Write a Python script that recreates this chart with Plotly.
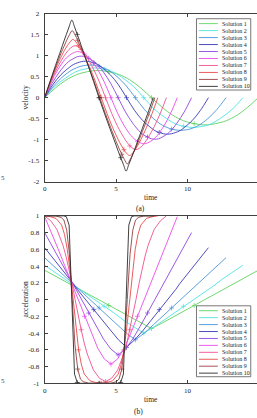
import plotly.graph_objects as go

W, H = 257, 418

NAMES = ["Solution 1", "Solution 2", "Solution 3", "Solution 4", "Solution 5",
         "Solution 6", "Solution 7", "Solution 8", "Solution 9", "Solution 10"]
COLORS = ['#5fd35f', '#4fe3e3', '#4a94d8', '#3a3ab8', '#8f45e0',
          '#ea4aea', '#f0508f', '#e84a4a', '#9a4040', '#2a2a2a']

# final time of each solution
T_END = [14.95, 13.87, 12.69, 11.46, 10.28, 9.28, 8.52, 7.92, 7.71, 7.6]
# sample instants as a fraction of each solution's final time
PHASE = [0, 0.05, 0.1, 0.15, 0.175, 0.2, 0.225, 0.25, 0.275, 0.3, 0.325, 0.35, 0.4, 0.45, 0.5,
         0.55, 0.6, 0.65, 0.675, 0.7, 0.725, 0.75, 0.775, 0.8, 0.825, 0.85, 0.9, 0.95, 1.0]
MARK_IDX = [9, 14, 19]

V1 = [0, 0.23, 0.42, 0.55, 0.59, 0.62, 0.64, 0.65, 0.64, 0.62, 0.59, 0.55, 0.42, 0.23, 0,
      -0.23, -0.42, -0.55, -0.59, -0.62, -0.64, -0.65, -0.64, -0.62, -0.59, -0.55, -0.42, -0.23, 0]
V2 = [0, 0.26, 0.45, 0.60, 0.65, 0.68, 0.70, 0.71, 0.70, 0.68, 0.65, 0.60, 0.45, 0.26, 0,
      -0.26, -0.45, -0.60, -0.65, -0.68, -0.70, -0.71, -0.70, -0.68, -0.65, -0.60, -0.45, -0.26, 0]
V3 = [0, 0.28, 0.50, 0.66, 0.71, 0.75, 0.77, 0.78, 0.77, 0.75, 0.71, 0.66, 0.50, 0.28, 0,
      -0.28, -0.50, -0.66, -0.71, -0.75, -0.77, -0.78, -0.77, -0.75, -0.71, -0.66, -0.50, -0.28, 0]
V4 = [0, 0.31, 0.55, 0.72, 0.79, 0.83, 0.86, 0.87, 0.86, 0.83, 0.79, 0.72, 0.55, 0.31, 0,
      -0.31, -0.55, -0.72, -0.79, -0.83, -0.86, -0.87, -0.86, -0.83, -0.79, -0.72, -0.55, -0.31, 0]
V5 = [0, 0.34, 0.61, 0.82, 0.89, 0.94, 0.98, 0.99, 0.98, 0.94, 0.89, 0.82, 0.61, 0.34, 0,
      -0.34, -0.61, -0.82, -0.89, -0.94, -0.98, -0.99, -0.98, -0.94, -0.89, -0.82, -0.61, -0.34, 0]
V6 = [0, 0.37, 0.67, 0.90, 0.98, 1.04, 1.08, 1.10, 1.08, 1.04, 0.98, 0.90, 0.67, 0.37, 0,
      -0.37, -0.67, -0.90, -0.98, -1.04, -1.08, -1.10, -1.08, -1.04, -0.98, -0.90, -0.67, -0.37, 0]
V7 = [0, 0.37, 0.69, 0.95, 1.06, 1.15, 1.21, 1.24, 1.21, 1.15, 1.06, 0.95, 0.69, 0.37, 0,
      -0.37, -0.69, -0.95, -1.06, -1.15, -1.21, -1.24, -1.21, -1.15, -1.06, -0.95, -0.69, -0.37, 0]
V8 = [0, 0.37, 0.71, 1.00, 1.13, 1.24, 1.33, 1.39, 1.33, 1.24, 1.13, 1.00, 0.71, 0.37, 0,
      -0.37, -0.71, -1.00, -1.13, -1.24, -1.33, -1.38, -1.33, -1.24, -1.13, -1.00, -0.71, -0.37, 0]
V9 = [0, 0.38, 0.73, 1.07, 1.22, 1.37, 1.50, 1.60, 1.50, 1.37, 1.22, 1.07, 0.73, 0.38, 0,
      -0.37, -0.72, -1.05, -1.21, -1.35, -1.48, -1.58, -1.48, -1.35, -1.21, -1.05, -0.72, -0.37, 0]
V10 = [0, 0.39, 0.77, 1.14, 1.33, 1.51, 1.69, 1.85, 1.69, 1.51, 1.33, 1.14, 0.77, 0.39, 0,
       -0.37, -0.73, -1.08, -1.26, -1.43, -1.59, -1.75, -1.59, -1.43, -1.26, -1.08, -0.73, -0.37, 0]
VEL = [V1, V2, V3, V4, V5, V6, V7, V8, V9, V10]

A1 = [0.35, 0.28, 0.21, 0.14, 0.105, 0.07, 0.035, 0, -0.035, -0.07, -0.105, -0.14, -0.21, -0.28, -0.345,
      -0.28, -0.21, -0.14, -0.105, -0.07, -0.035, 0, 0.035, 0.07, 0.105, 0.14, 0.21, 0.28, 0.35]
A2 = [0.41, 0.33, 0.25, 0.16, 0.12, 0.08, 0.04, 0, -0.04, -0.08, -0.12, -0.16, -0.25, -0.33, -0.40,
      -0.33, -0.25, -0.16, -0.12, -0.08, -0.04, 0, 0.04, 0.08, 0.12, 0.16, 0.25, 0.33, 0.41]
A3 = [0.50, 0.40, 0.30, 0.20, 0.15, 0.10, 0.05, 0, -0.05, -0.10, -0.15, -0.20, -0.30, -0.40, -0.48,
      -0.40, -0.30, -0.20, -0.15, -0.10, -0.05, 0, 0.05, 0.10, 0.15, 0.20, 0.30, 0.40, 0.50]
A4 = [0.62, 0.50, 0.37, 0.25, 0.19, 0.12, 0.06, 0, -0.06, -0.12, -0.19, -0.25, -0.37, -0.48, -0.57,
      -0.48, -0.37, -0.25, -0.19, -0.12, -0.06, 0, 0.06, 0.12, 0.19, 0.25, 0.37, 0.50, 0.62]
A5 = [0.80, 0.64, 0.48, 0.32, 0.24, 0.16, 0.08, 0, -0.08, -0.16, -0.24, -0.32, -0.47, -0.59, -0.66,
      -0.59, -0.47, -0.32, -0.24, -0.16, -0.08, 0, 0.08, 0.16, 0.24, 0.32, 0.48, 0.64, 0.80]
A6 = [0.99, 0.81, 0.61, 0.41, 0.31, 0.20, 0.10, 0, -0.10, -0.20, -0.30, -0.40, -0.58, -0.71, -0.77,
      -0.71, -0.58, -0.40, -0.30, -0.20, -0.10, 0, 0.10, 0.20, 0.31, 0.41, 0.61, 0.81, 0.99]
A7 = [1.0, 0.94, 0.84, 0.65, 0.52, 0.36, 0.19, 0, -0.19, -0.36, -0.52, -0.65, -0.84, -0.94, -0.98,
      -0.94, -0.84, -0.65, -0.52, -0.36, -0.19, 0, 0.19, 0.36, 0.52, 0.65, 0.84, 0.94, 1.0]
A8 = [1.0, 0.99, 0.97, 0.89, 0.78, 0.60, 0.34, 0, -0.34, -0.60, -0.78, -0.89, -0.97, -0.99, -1.0,
      -0.99, -0.97, -0.89, -0.78, -0.60, -0.34, 0, 0.34, 0.60, 0.78, 0.89, 0.97, 0.99, 1.0]
A9 = [1.0, 1.0, 1.0, 0.98, 0.95, 0.83, 0.54, 0, -0.54, -0.83, -0.95, -0.98, -1.0, -1.0, -1.0,
      -1.0, -1.0, -0.98, -0.95, -0.83, -0.54, 0, 0.54, 0.83, 0.95, 0.98, 1.0, 1.0, 1.0]
A10 = [1.0, 1.0, 1.0, 1.0, 1.0, 0.99, 0.89, 0, -0.89, -0.99, -1.0, -1.0, -1.0, -1.0, -1.0,
       -1.0, -1.0, -1.0, -1.0, -0.99, -0.89, 0, 0.89, 0.99, 1.0, 1.0, 1.0, 1.0, 1.0]
ACC = [A1, A2, A3, A4, A5, A6, A7, A8, A9, A10]

V_TICKS = [2, 1.5, 1, 0.5, 0, -0.5, -1, -1.5, -2]
V_LABELS = ["2", "1.5", "1", "0.5", "0", "-0.5", "-1", "-1.5", "-2"]
A_TICKS = [1, 0.8, 0.6, 0.4, 0.2, 0, -0.2, -0.4, -0.6, -0.8, -1]
A_LABELS = ["1", "0.8", "0.6", "0.4", "0.2", "0", "-0.2", "-0.4", "-0.6", "-0.8", "-1"]
T_TICKS = [0, 5, 10]
T_LABELS = ["0", "5", "10"]

FONT = "Liberation Serif"
AX = '#404040'


def px(x):
    return x / W


def py(y):
    return 1 - y / H


fig = go.Figure()
for i in range(10):
    t = [p * T_END[i] for p in PHASE]
    c = COLORS[i]
    for vals, xa, ya, shape in ((VEL[i], 'x', 'y', 'spline'), (ACC[i], 'x2', 'y2', 'linear')):
        fig.add_trace(go.Scatter(x=t, y=vals, mode='lines', xaxis=xa, yaxis=ya,
                                 line=dict(color=c, width=0.9, shape=shape),
                                 showlegend=False, hoverinfo='skip'))
        fig.add_trace(go.Scatter(x=[t[j] for j in MARK_IDX], y=[vals[j] for j in MARK_IDX],
                                 mode='markers', xaxis=xa, yaxis=ya,
                                 marker=dict(symbol='cross-thin', size=3.5,
                                             line=dict(color=c, width=0.7)),
                                 showlegend=False, hoverinfo='skip'))

xdom = [px(43), 1.0]
common_x = dict(range=[0, 14.86], tickvals=T_TICKS, ticktext=T_LABELS, ticks='inside',
                ticklen=3, tickcolor=AX, showline=True, linecolor=AX, linewidth=0.8,
                mirror='ticks', showgrid=False, zeroline=False, domain=xdom,
                tickfont=dict(family=FONT, size=7, color='#222'))
common_y = dict(ticks='inside', ticklen=3, tickcolor=AX, showline=True, linecolor=AX,
                linewidth=0.8, showgrid=False, zeroline=False, ticklabelstandoff=3,
                tickfont=dict(family=FONT, size=7, color='#222'))

fig.update_layout(
    width=W, height=H, autosize=False,
    margin=dict(l=0, r=0, t=0, b=0),
    paper_bgcolor='white', plot_bgcolor='white',
    xaxis=dict(anchor='y', **common_x),
    yaxis=dict(anchor='x', domain=[py(181), py(10)], range=[-2, 2],
               tickvals=V_TICKS, ticktext=V_LABELS, **common_y),
    xaxis2=dict(anchor='y2', **common_x),
    yaxis2=dict(anchor='x2', domain=[py(386.7), py(216)], range=[-1, 1],
                tickvals=A_TICKS, ticktext=A_LABELS, **common_y),
)

ann = []
shapes = []
tf = dict(family=FONT, size=7.5, color='#222')


def label(text, x, y, angle=0, font=tf):
    ann.append(dict(text=text, x=px(x), y=py(y), textangle=angle, xref='paper', yref='paper',
                    xanchor='center', yanchor='middle', showarrow=False, font=font))


label("time", 150, 197)
label("(a)", 140, 208)
label("velocity", 24, 95.5, -90)
label("time", 150, 403)
label("(b)", 137.5, 415)
label("acceleration", 24, 301.5, -90)
for yy in (177, 384):
    label("5", 1.0, yy, 0, dict(family=FONT, size=7, color='#444'))

# legends
for (top, bot, first, step) in ((15, 87.7, 20.0, 7.11), (307.7, 380, 312.7, 7.07)):
    shapes.append(dict(type='rect', xref='paper', yref='paper', x0=px(196), x1=px(250.7),
                       y0=py(bot), y1=py(top), fillcolor='white',
                       line=dict(color='#555', width=0.8), layer='above'))
    for i in range(10):
        yy = first + step * i
        shapes.append(dict(type='line', xref='paper', yref='paper', x0=px(198.5), x1=px(217.5),
                           y0=py(yy), y1=py(yy), line=dict(color=COLORS[i], width=0.9), layer='above'))
        ann.append(dict(text=NAMES[i], x=px(220), y=py(yy), xref='paper', yref='paper',
                        xanchor='left', yanchor='middle', showarrow=False,
                        font=dict(family=FONT, size=6, color='#222')))

fig.update_layout(annotations=ann, shapes=shapes)
fig.write_html("out.html")
